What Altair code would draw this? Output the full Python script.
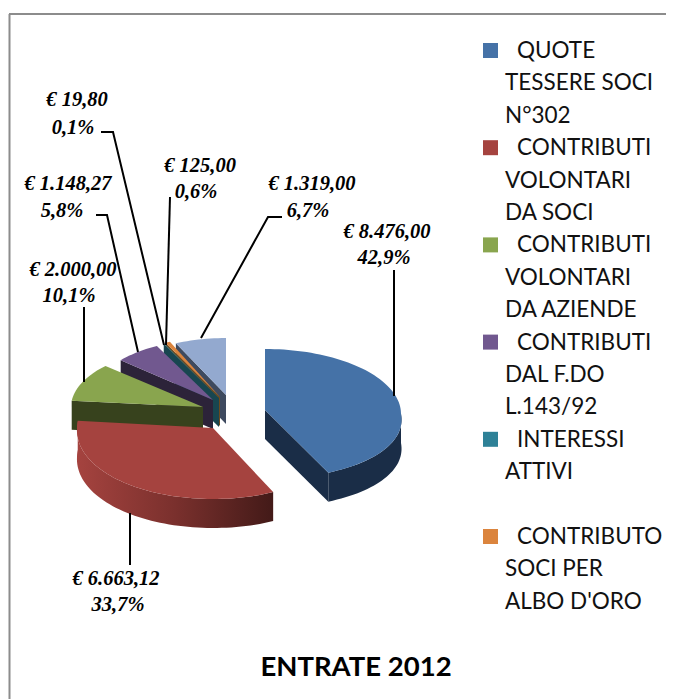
import math
import altair as alt
import pandas as pd

names = ["QUOTE TESSERE SOCI N°302", "CONTRIBUTI VOLONTARI DA SOCI", "CONTRIBUTI VOLONTARI DA AZIENDE",
         "CONTRIBUTI DAL F.DO L.143/92", "INTERESSI ATTIVI", "CONTRIBUTO SOCI PER ALBO D'ORO", "ALTRO"]
values = [8476.00, 6663.12, 2000.00, 1148.27, 19.80, 125.00, 1319.00]
top_colors = ["#4572A7", "#A5433F", "#89A54E", "#71588F", "#2E8197", "#DB843D", "#93A9CF"]
side_colors = ["#1A2D47", "#A5433F", "#37421D", "#2C2339", "#184650", "#6B4A1F", "#3E4A5F"]

# exploded slice geometry (apex position in the page, rim radii)
apex_x = [265, 213, 203, 213, 219, 220, 226]
apex_y = [410, 428, 407, 400, 398, 397, 395]
rim_shift = [4, 0, 0, 4, 4, 4, 4]
rad_y = [65, 71, 61, 65, 65, 65, 61]
rad_x = [136, 136, 132, 125, 123, 123, 123]
front_stretch = [0.09, 0.03, 0.0, 0.0, 0.0, 0.0, 0.0]
DEPTH = 29

label_amounts = ["€ 8.476,00", "€ 6.663,12", "€ 2.000,00", "€ 1.148,27", "€ 19,80", "€ 125,00", "€ 1.319,00"]
label_shares = ["42,9%", "33,7%", "10,1%", "5,8%", "0,1%", "0,6%", "6,7%"]
label_x1 = [387, 116, 73, 68, 77, 200, 312]
label_x2 = [384, 118, 69, 62, 73, 196, 308]
label_y1 = [232, 579, 270, 184, 100, 166, 184]
label_y2 = [258, 605, 296, 211, 128, 192, 211]
leaders = [
    [(394, 270), (394, 396)],
    [(130, 513), (130, 565)],
    [(84, 307), (84, 382)],
    [(96, 215), (107, 215), (138, 352)],
    [(101, 132), (113, 132), (164, 345)],
    [(170, 197), (166, 345)],
    [(282, 217), (268, 217), (201, 338)],
]
legend_lines = ["  QUOTE", "TESSERE SOCI", "N°302", "  CONTRIBUTI", "VOLONTARI", "DA SOCI",
                "  CONTRIBUTI", "VOLONTARI", "DA AZIENDE", "  CONTRIBUTI", "DAL F.DO", "L.143/92",
                "  INTERESSI", "ATTIVI", "", "  CONTRIBUTO", "SOCI PER", "ALBO D'ORO"]
legend_swatch_line = [0, 3, 6, 9, 12, 15]
title_text = "ENTRATE 2012"

X = alt.X("x:Q", scale=alt.Scale(domain=[8, 666], nice=False, zero=False), axis=None)
Y = alt.Y("y:Q", scale=alt.Scale(domain=[699, 8], nice=False, zero=False), axis=None)


def poly(points, fill):
    pts = list(points) + [points[0]]
    df = pd.DataFrame({"x": [p[0] for p in pts], "y": [p[1] for p in pts], "i": range(len(pts))})
    return alt.Chart(df).mark_line(fill=fill, strokeWidth=0, interpolate="linear").encode(
        x=X, y=Y, order="i:Q")


total = sum(values)
starts = []
acc = 0.0
for v in values:
    starts.append(acc)
    acc += v / total * 360


def rim(k, a):
    t = math.radians(a)
    stretch = 1 + front_stretch[k] * max(0.0, -math.cos(t))
    return (apex_x[k] + rad_x[k] * stretch * math.sin(t),
            apex_y[k] + rim_shift[k] - rad_y[k] * math.cos(t))


def arc(k, a0, a1, dy=0):
    n = max(2, int(abs(a1 - a0) / 2) + 2)
    out = []
    for j in range(n):
        x, y = rim(k, a0 + (a1 - a0) * j / (n - 1))
        out.append((x, y + dy))
    return out


layers = []
red_grad = alt.LinearGradient(gradient="linear", x1=0, x2=1, y1=0, y2=0,
                              stops=[alt.GradientStop(offset=0, color="#A5433F"),
                                     alt.GradientStop(offset=0.5, color="#7A302D"),
                                     alt.GradientStop(offset=1, color="#431A18")])
for k in [6, 5, 4, 3, 2, 1, 0]:
    a0 = starts[k]
    a1 = a0 + values[k] / total * 360
    ap = (apex_x[k], apex_y[k])
    apd = (apex_x[k], apex_y[k] + DEPTH)
    if k == 0:
        layers.append(poly(arc(k, 90, a1) + arc(k, a1, 90, DEPTH), side_colors[k]))
        end = rim(k, a1)
        layers.append(poly([ap, end, (end[0], end[1] + DEPTH), apd], side_colors[k]))
    elif k == 1:
        layers.append(poly(arc(k, a0, a1) + arc(k, a1, a0, DEPTH), red_grad))
    else:
        st = rim(k, a0)
        layers.append(poly([ap, st, (st[0], st[1] + DEPTH), apd], side_colors[k]))
    layers.append(poly([ap] + arc(k, a0, a1), top_colors[k]))

# leader lines
for pts in leaders:
    df = pd.DataFrame({"x": [p[0] for p in pts], "y": [p[1] for p in pts], "i": range(len(pts))})
    layers.append(alt.Chart(df).mark_line(color="black", strokeWidth=2).encode(x=X, y=Y, order="i:Q"))

# data labels
lab = pd.DataFrame({"x": label_x1 + label_x2, "y": label_y1 + label_y2, "t": label_amounts + label_shares})
layers.append(alt.Chart(lab).mark_text(font="Liberation Serif", fontWeight="bold", fontStyle="italic",
                                       fontSize=20.5, color="black", baseline="middle", align="center")
              .encode(x=X, y=Y, text="t:N"))

# legend
LINE0, STEP = 51, 32.4
leg = pd.DataFrame({"x": [517 if s.startswith("  ") else 505 for s in legend_lines],
                    "y": [LINE0 + STEP * i for i in range(len(legend_lines))],
                    "t": [s.strip() for s in legend_lines]})
leg = leg[leg.t != ""]
layers.append(alt.Chart(leg).mark_text(font="Lato", fontSize=22.5, color="#111111", baseline="middle", align="left")
              .encode(x=X, y=Y, text="t:N"))
sw = pd.DataFrame({"x": [483] * 6, "x2": [498] * 6,
                   "y": [LINE0 + STEP * i - 8 for i in legend_swatch_line],
                   "y2": [LINE0 + STEP * i + 7 for i in legend_swatch_line],
                   "c": top_colors[:6]})
layers.append(alt.Chart(sw).mark_rect().encode(x=X, x2="x2:Q", y=Y, y2="y2:Q",
                                               color=alt.Color("c:N", scale=None)))

# title
layers.append(alt.Chart(pd.DataFrame({"x": [356], "y": [668], "t": [title_text]}))
              .mark_text(font="Lato", fontWeight="bold", fontSize=27.5, color="black", baseline="middle")
              .encode(x=X, y=Y, text="t:N"))

# frame
layers.append(alt.Chart(pd.DataFrame({"x": [9.5], "y": [14], "y2": [699]}))
              .mark_rule(color="#8C8C8C", strokeWidth=2).encode(x=X, y=Y, y2="y2:Q"))
layers.append(alt.Chart(pd.DataFrame({"x": [9], "x2": [666], "y": [14]}))
              .mark_rule(color="#8C8C8C", strokeWidth=2).encode(x=X, x2="x2:Q", y=Y))

chart = alt.layer(*layers).properties(width=658, height=691, padding=0,
                                      autosize=alt.AutoSizeParams(type="none")
                                      ).configure_view(stroke=None)
chart.save("out.html", embed_options={"renderer": "svg", "actions": False})
